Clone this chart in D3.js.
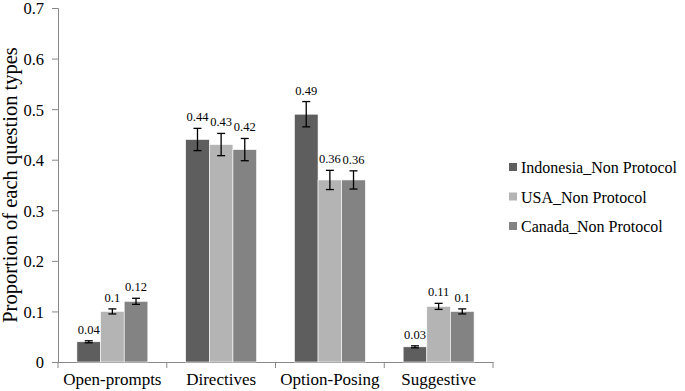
<!DOCTYPE html>
<html>
<head>
<meta charset="utf-8">
<script src="https://cdn.jsdelivr.net/npm/d3@7"></script>
<style>
  body { margin: 0; background: #fff; }
  text { font-family: "Liberation Serif", "DejaVu Serif", serif; fill: #000; }
</style>
</head>
<body>
<div id="chart"></div>
<script>
/* DATA */
const categories = ["Open-prompts", "Directives", "Option-Posing", "Suggestive"];
const seriesNames = ["Indonesia_Non Protocol", "USA_Non Protocol", "Canada_Non Protocol"];
const indonesia = [0.04, 0.44, 0.49, 0.03];
const usa = [0.10, 0.43, 0.36, 0.11];
const canada = [0.12, 0.42, 0.36, 0.10];
const indonesiaErr = [0.002, 0.022, 0.025, 0.002];
const usaErr = [0.005, 0.022, 0.019, 0.006];
const canadaErr = [0.006, 0.022, 0.018, 0.005];
const labelsIndonesia = ["0.04", "0.44", "0.49", "0.03"];
const labelsUsa = ["0.1", "0.43", "0.36", "0.11"];
const labelsCanada = ["0.12", "0.42", "0.36", "0.1"];
const yTicks = [0, 0.1, 0.2, 0.3, 0.4, 0.5, 0.6, 0.7];

const width = 685, height = 391,
  margin = { top: 8, bottom: 29, left: 58, right: 192 };

const colors = ["#5e5e5e", "#b4b4b4", "#838383"];

const series = [
  { name: seriesNames[0], values: indonesia, err: indonesiaErr, labels: labelsIndonesia },
  { name: seriesNames[1], values: usa, err: usaErr, labels: labelsUsa },
  { name: seriesNames[2], values: canada, err: canadaErr, labels: labelsCanada }
];

const rows = [];
categories.forEach((c, i) => {
  series.forEach((s, j) => {
    rows.push({ cat: c, series: s.name, si: j, value: s.values[i], err: s.err[i], label: s.labels[i] });
  });
});

/* SCALES */
const xScale = d3.scaleBand()
  .domain(categories)
  .range([margin.left, width - margin.right])
  .paddingInner(0)
  .paddingOuter(0);

const xInner = d3.scaleBand()
  .domain(seriesNames)
  .range([0, xScale.bandwidth()])
  .paddingOuter(0.8)
  .paddingInner(0);

const yScale = d3.scaleLinear()
  .domain([0, 0.7])
  .range([height - margin.bottom, margin.top]);

const colorScale = d3.scaleOrdinal().domain(seriesNames).range(colors);

const svg = d3.select("#chart").append("svg")
  .attr("width", width)
  .attr("height", height);

/* AXES */
const yAxis = d3.axisLeft(yScale).tickValues(yTicks).tickSize(6).tickFormat(d => d === 0 ? "0" : d3.format(".1f")(d));
const yAxisGroup = svg.append("g")
  .attr("transform", `translate(${margin.left},0)`)
  .call(yAxis);
yAxisGroup.select(".domain").attr("stroke", "#888");
yAxisGroup.selectAll(".tick line").attr("stroke", "#888");
yAxisGroup.selectAll(".tick text").attr("font-size", 16.5).attr("x", -14).attr("dy", "0.36em").attr("fill", "#000");

const xAxis = d3.axisBottom(xScale).tickSize(0).tickSizeOuter(0);
const xAxisGroup = svg.append("g")
  .attr("transform", `translate(0,${height - margin.bottom})`)
  .call(xAxis);
xAxisGroup.select(".domain").attr("stroke", "#888");
xAxisGroup.selectAll(".tick text").attr("font-size", 17).attr("dy", 0).attr("y", 23).attr("fill", "#000");

// boundary ticks between categories
const bounds = categories.map(c => xScale(c)).concat([xScale.range()[1]]);
svg.append("g").selectAll("line")
  .data(bounds)
  .join("line")
  .attr("x1", d => d).attr("x2", d => d)
  .attr("y1", height - margin.bottom)
  .attr("y2", height - margin.bottom + 6)
  .attr("stroke", "#888");

svg.append("text")
  .attr("transform", `translate(17,${(margin.top + height - margin.bottom) / 2}) rotate(-90)`)
  .attr("text-anchor", "middle")
  .attr("font-size", 20.5)
  .text("Proportion of each question types");

/* BARS */
const bars = svg.append("g").selectAll("g")
  .data(rows)
  .join("g");

bars.append("rect")
  .attr("x", d => xScale(d.cat) + xInner(d.series))
  .attr("y", d => yScale(d.value))
  .attr("width", xInner.bandwidth())
  .attr("height", d => yScale(0) - yScale(d.value))
  .attr("fill", d => colorScale(d.series))
  .attr("stroke", "#fff")
  .attr("stroke-width", 0.6);

// error bars
const cx = d => xScale(d.cat) + xInner(d.series) + xInner.bandwidth() / 2;
bars.append("line")
  .attr("x1", cx).attr("x2", cx)
  .attr("y1", d => yScale(d.value + d.err))
  .attr("y2", d => yScale(d.value - d.err))
  .attr("stroke", "#000").attr("stroke-width", 1.3);
bars.append("line")
  .attr("x1", d => cx(d) - 4).attr("x2", d => cx(d) + 4)
  .attr("y1", d => yScale(d.value + d.err))
  .attr("y2", d => yScale(d.value + d.err))
  .attr("stroke", "#000").attr("stroke-width", 1.3);
bars.append("line")
  .attr("x1", d => cx(d) - 4).attr("x2", d => cx(d) + 4)
  .attr("y1", d => yScale(d.value - d.err))
  .attr("y2", d => yScale(d.value - d.err))
  .attr("stroke", "#000").attr("stroke-width", 1.3);

// data labels
bars.append("text")
  .attr("x", cx)
  .attr("y", d => yScale(d.value + d.err) - 7)
  .attr("text-anchor", "middle")
  .attr("font-size", 12.5)
  .text(d => d.label);

/* LEGEND */
const legend = svg.append("g")
  .attr("transform", "translate(509,167)");
const items = legend.selectAll("g")
  .data(seriesNames)
  .join("g")
  .attr("transform", (d, i) => `translate(0,${i * 29.5})`);
items.append("rect")
  .attr("x", 0).attr("y", -4)
  .attr("width", 8).attr("height", 8)
  .attr("fill", d => colorScale(d));
items.append("text")
  .attr("x", 12).attr("y", 6)
  .attr("font-size", 16)
  .text(d => d);
</script>
</body>
</html>
